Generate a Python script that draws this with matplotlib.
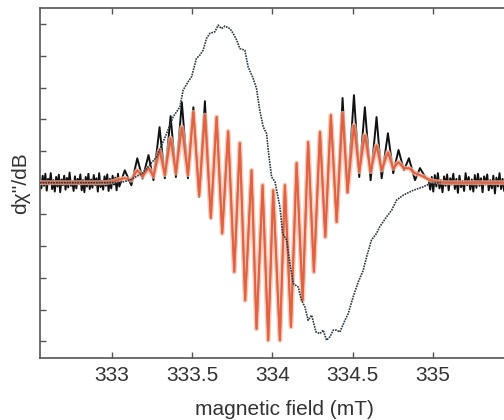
import numpy as np
import matplotlib
matplotlib.use("Agg")
import matplotlib.pyplot as plt

plt.rcParams['font.family'] = ['Liberation Sans', 'DejaVu Sans']

# ---------------- data ----------------
# hyperfine extrema positions (mT)
peak_x = [333.079, 333.157, 333.227, 333.296, 333.365, 333.435, 333.507, 333.579,
          333.652, 333.724, 333.797, 333.870, 333.939, 334.005, 334.078, 334.151,
          334.223, 334.297, 334.365, 334.438, 334.509, 334.577, 334.650, 334.721,
          334.787, 334.852, 334.921]
trough_x = [333.120, 333.190, 333.258, 333.329, 333.398, 333.473, 333.543, 333.616,
            333.687, 333.762, 333.830, 333.901, 333.974, 334.047, 334.116, 334.189,
            334.259, 334.330, 334.401, 334.469, 334.542, 334.613, 334.682, 334.754,
            334.821, 334.890, 334.958]

# experimental (black) extrema
exp_peak_y = [0.39, 0.77, 0.87, 1.75, 2.10, 2.54, 2.38, 2.57, 2.07, 1.62, 1.25, 0.39,
              -0.08, -0.24, -0.08, 0.62, 1.28, 1.60, 2.13, 2.67, 2.76, 2.38, 2.07,
              1.56, 1.03, 0.77, 0.46]
exp_trough_y = [-0.08, 0.13, 0.08, 0.14, 0.18, 0.14, -0.45, -1.13, -1.60, -2.81,
                -3.71, -4.61, -4.97, -4.97, -4.55, -3.71, -2.81, -1.71, -1.24, -0.33,
                0.18, 0.08, 0.14, 0.30, 0.39, 0.08, 0.14]

# simulated (red) extrema
sim_peak_y = [0.14, 0.39, 0.46, 1.03, 1.40, 1.75, 2.22, 2.13, 2.07, 1.62, 1.25, 0.39,
              -0.08, -0.24, -0.08, 0.62, 1.28, 1.60, 2.13, 2.19, 1.81, 1.50, 1.18,
              0.96, 0.65, 0.46, 0.24]
sim_trough_y = [0.08, 0.20, 0.20, 0.25, 0.30, 0.25, -0.40, -1.10, -1.60, -2.81,
                -3.71, -4.61, -4.97, -4.97, -4.55, -3.71, -2.81, -1.71, -1.24, -0.30,
                0.35, 0.35, 0.40, 0.45, 0.45, 0.30, 0.15]

# baseline noise of the experimental trace (left and right wings)
noise_left = [0.05, -0.18, 0.22, -0.10, 0.28, -0.25, 0.12, -0.05, 0.30, -0.20, 0.08,
              -0.28, 0.18, -0.12, 0.25, -0.30, 0.10, -0.08, 0.22, -0.22, 0.15, -0.15,
              0.32, -0.10, 0.05, -0.26, 0.20, -0.18, 0.12, -0.05, 0.26, -0.24, 0.08,
              -0.30, 0.18, -0.12, 0.28, -0.20, 0.10, -0.16, 0.24, -0.08, 0.14, -0.28,
              0.30, -0.14, 0.06, -0.22, 0.20, -0.10, 0.26, -0.26, 0.12, -0.18, 0.22,
              -0.06, 0.16, -0.24, 0.28, -0.12]
noise_left_range = (332.55, 333.045)
noise_right = [0.10, -0.22, 0.18, -0.28, 0.24, -0.12, 0.30, -0.18, 0.08, -0.30, 0.20,
               -0.10, 0.26, -0.24, 0.14, -0.06, 0.28, -0.20, 0.12, -0.32, 0.22, -0.14,
               0.06, -0.26, 0.30, -0.08, 0.18, -0.22, 0.10, -0.28, 0.24, -0.16, 0.28,
               -0.10, 0.14, -0.30, 0.20, -0.06, 0.26, -0.24, 0.08, -0.18, 0.22, -0.34,
               0.16, -0.12, 0.30, -0.20, 0.12, -0.26, 0.24, -0.08, 0.18, -0.22, 0.26,
               -0.14, 0.10, -0.28, 0.20, -0.10, 0.16, -0.24, 0.22, -0.12, 0.28, -0.18]
noise_right_range = (334.975, 335.60)

# simulated trace wings
sim_left_x = [332.55, 332.95, 333.00, 333.04]
sim_left_y = [0.0, 0.0, 0.03, 0.10]
sim_right_x = [335.00, 335.08, 335.60]
sim_right_y = [0.05, 0.0, 0.0]

# broad dotted trace
broad_x = [332.55, 333.05, 333.11, 333.19, 333.277, 333.340, 333.381, 333.423, 333.443,
           333.474, 333.496, 333.526, 333.547, 333.568, 333.589, 333.610, 333.641,
           333.662, 333.683, 333.704, 333.735, 333.755, 333.777, 333.797, 333.828,
           333.849, 333.880, 333.901, 333.921, 333.943, 333.964, 333.974, 333.995,
           334.016, 334.047, 334.064, 334.089, 334.109, 334.130, 334.161, 334.182,
           334.203, 334.223, 334.245, 334.272, 334.297, 334.317, 334.338, 334.359,
           334.380, 334.401, 334.421, 334.453, 334.473, 334.504, 334.536, 334.567,
           334.588, 334.618, 334.650, 334.670, 334.712, 334.744, 334.775, 334.817,
           334.879, 334.941, 334.983, 335.05]
broad_y = [0.0, 0.0, 0.08, 0.30, 0.81, 1.55, 2.08, 2.39, 2.92, 3.18, 3.34, 3.92, 4.02,
           4.18, 4.55, 4.71, 4.76, 4.97, 4.86, 4.94, 4.86, 4.71, 4.50, 4.23, 4.18, 3.65,
           3.29, 2.97, 2.29, 1.76, 1.55, 1.03, 0.18, 0.03, -0.76, -1.60, -1.81, -2.55,
           -3.18, -3.29, -3.71, -3.92, -4.34, -4.18, -4.71, -4.76, -4.65, -4.97, -4.86,
           -4.65, -4.65, -4.71, -4.34, -4.13, -3.60, -3.13, -2.76, -2.34, -1.81, -1.60,
           -1.39, -1.08, -0.87, -0.55, -0.39, -0.24, -0.13, -0.03, 0.0]

x_ticks = [333, 333.5, 334, 334.5, 335]
x_ticklabels = ['333', '333.5', '334', '334.5', '335']
y_ticks = [-5, -4, -3, -2, -1, 0, 1, 2, 3, 4, 5]

# ---------------- assemble traces ----------------
def interleave(px, py, tx, ty):
    xs, ys = [], []
    for a, b, c, d in zip(px, py, tx, ty):
        xs += [a, c]
        ys += [b, d]
    return xs, ys

ex_x, ex_y = interleave(peak_x, exp_peak_y, trough_x, exp_trough_y)
nl_x = np.linspace(noise_left_range[0], noise_left_range[1], len(noise_left))
nr_x = np.linspace(noise_right_range[0], noise_right_range[1], len(noise_right))
exp_x = np.concatenate([nl_x, ex_x, nr_x])
exp_y = np.concatenate([noise_left, ex_y, noise_right])

sx, sy = interleave(peak_x, sim_peak_y, trough_x, sim_trough_y)
sim_x = np.concatenate([sim_left_x, sx, sim_right_x])
sim_y = np.concatenate([sim_left_y, sy, sim_right_y])

# ---------------- figure ----------------
# the right part of the frame lies outside the picture (cropped like the reference)
fig = plt.figure(figsize=(5.04, 4.20), dpi=100)
ax = fig.add_axes([40 / 504, 1 - 357.7 / 420, 488 / 504, (357.7 - 8.3) / 420])

ax.plot(exp_x, exp_y, color='#111111', lw=1.4, solid_joinstyle='round', zorder=2)
ax.plot(sim_x, sim_y, color='#f6b8a0', lw=3.6, alpha=0.75, solid_joinstyle='round',
        solid_capstyle='round', zorder=3)
ax.plot(sim_x, sim_y, color='#e4603f', lw=1.4, solid_joinstyle='round', zorder=4)
ax.plot(broad_x, broad_y, color='#2c3842', lw=1.2, linestyle=(0, (1, 0.6)), zorder=5)

ax.set_xlim(332.55, 335.595)
ax.set_ylim(-5.52, 5.50)
ax.set_xticks(x_ticks)
ax.set_xticklabels(x_ticklabels)
ax.set_yticks(y_ticks)
ax.set_yticklabels([])
ax.tick_params(direction='in', length=4, width=1.0, color='#555555',
               top=True, right=True, labelsize=15, labelcolor='#333333', pad=6)
for s in ax.spines.values():
    s.set_color('#555555')
    s.set_linewidth(1.2)

ax.set_xlabel('magnetic field (mT)', fontsize=15, color='#333333', labelpad=11)
ax.set_ylabel("d\u03c7''/dB", fontsize=15, color='#333333', labelpad=1)

fig.savefig('out.png', dpi=100)
